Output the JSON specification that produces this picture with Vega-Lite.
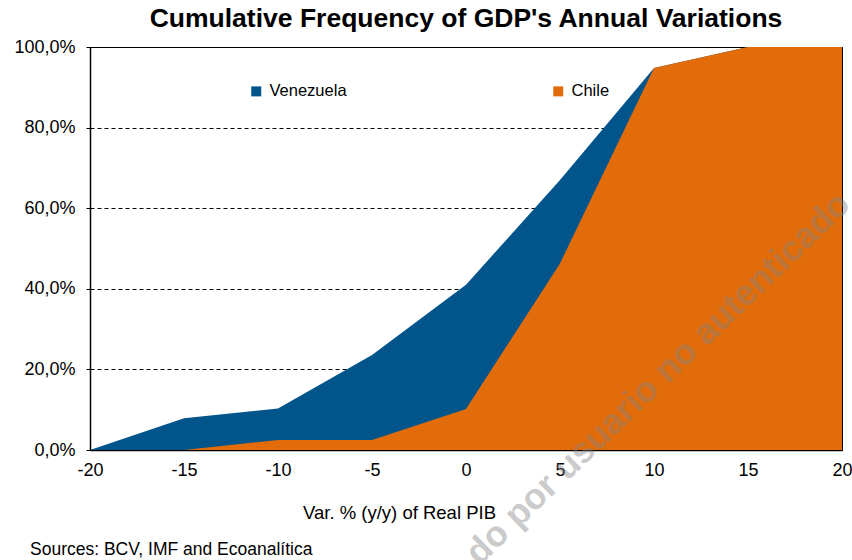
{
  "$schema": "https://vega.github.io/schema/vega-lite/v6.json",
  "width": 752,
  "height": 403,
  "autosize": {"type": "none"},
  "padding": {"left": 90, "top": 47, "right": 10, "bottom": 110},
  "background": "white",
  "title": {
    "text": "Cumulative Frequency of GDP's Annual Variations",
    "font": "Liberation Sans",
    "fontSize": 26.5,
    "fontWeight": "bold",
    "color": "black",
    "anchor": "middle",
    "offset": 6
  },
  "config": {
    "font": "Liberation Sans",
    "view": {"stroke": "black", "strokeWidth": 1},
    "axis": {
      "labelFont": "Liberation Sans",
      "titleFont": "Liberation Sans",
      "labelColor": "black",
      "titleColor": "black",
      "domainColor": "black",
      "tickColor": "black"
    }
  },
  "layer": [
    {
      "data": {
        "values": [
          {"x": -20, "freq": 0, "country": "Venezuela"},
          {"x": -15, "freq": 0.079, "country": "Venezuela"},
          {"x": -10, "freq": 0.103, "country": "Venezuela"},
          {"x": -5, "freq": 0.236, "country": "Venezuela"},
          {"x": 0, "freq": 0.41, "country": "Venezuela"},
          {"x": 5, "freq": 0.67, "country": "Venezuela"},
          {"x": 10, "freq": 0.948, "country": "Venezuela"},
          {"x": 15, "freq": 1.0, "country": "Venezuela"},
          {"x": 20, "freq": 1.0, "country": "Venezuela"},
          {"x": -20, "freq": 0, "country": "Chile"},
          {"x": -15, "freq": 0, "country": "Chile"},
          {"x": -10, "freq": 0.025, "country": "Chile"},
          {"x": -5, "freq": 0.025, "country": "Chile"},
          {"x": 0, "freq": 0.102, "country": "Chile"},
          {"x": 5, "freq": 0.463, "country": "Chile"},
          {"x": 10, "freq": 0.948, "country": "Chile"},
          {"x": 15, "freq": 1.0, "country": "Chile"},
          {"x": 20, "freq": 1.0, "country": "Chile"}
        ]
      },
      "mark": {"type": "area", "opacity": 1, "interpolate": "linear"},
      "encoding": {
        "x": {
          "field": "x",
          "type": "quantitative",
          "scale": {"domain": [-20, 20], "nice": false},
          "axis": {
            "values": [-20, -15, -10, -5, 0, 5, 10, 15, 20],
            "labelExpr": "'' + datum.value",
            "grid": false,
            "ticks": false,
            "labelFontSize": 18,
            "labelPadding": 11,
            "labelFlush": false,
            "domainWidth": 1.5,
            "title": "Var. % (y/y) of Real PIB",
            "titleFontSize": 18.5,
            "titleFontWeight": "normal",
            "titleX": 309,
            "titleY": 68,
            "titleBaseline": "alphabetic",
            "titleAlign": "center"
          }
        },
        "y": {
          "field": "freq",
          "type": "quantitative",
          "stack": null,
          "scale": {"domain": [0, 1], "nice": false},
          "axis": {
            "values": [0, 0.2, 0.4, 0.6, 0.8, 1.0],
            "labelExpr": "replace(format(datum.value, '.1%'), '.', ',')",
            "grid": true,
            "gridColor": "black",
            "gridDash": [4, 3],
            "gridWidth": 1,
            "tickSize": 4,
            "labelFontSize": 18,
            "labelPadding": 11,
            "domainWidth": 1.5,
            "title": null
          }
        },
        "color": {
          "field": "country",
          "type": "nominal",
          "scale": {"domain": ["Venezuela", "Chile"], "range": ["#02558B", "#E36C0A"]},
          "legend": {
            "title": null,
            "orient": "none",
            "legendX": 158,
            "legendY": 36,
            "direction": "horizontal",
            "columns": 2,
            "columnPadding": 203,
            "symbolType": "square",
            "symbolSize": 100,
            "symbolStrokeWidth": 0,
            "labelFontSize": 16.5,
            "labelColor": "black",
            "labelOffset": 5
          }
        },
        "order": {"field": "country", "sort": "descending"}
      }
    },
    {
      "data": {"values": [{"note": "Sources: BCV, IMF and Ecoanalítica"}]},
      "mark": {"type": "text", "align": "left", "baseline": "middle", "fontSize": 17.5, "color": "black", "dx": -60, "dy": 100},
      "encoding": {
        "x": {"datum": -20, "type": "quantitative"},
        "y": {"datum": 0, "type": "quantitative"},
        "text": {"field": "note"}
      }
    },
    {
      "data": {"values": [{"wm": "do por usuario no autenticado"}]},
      "mark": {"type": "text", "align": "right", "baseline": "alphabetic", "angle": -44, "fontSize": 36, "fontWeight": "bold", "color": "#808080", "opacity": 0.4, "dx": 14},
      "encoding": {
        "x": {"datum": 20, "type": "quantitative"},
        "y": {"datum": 0.58, "type": "quantitative"},
        "text": {"field": "wm"}
      }
    }
  ]
}
